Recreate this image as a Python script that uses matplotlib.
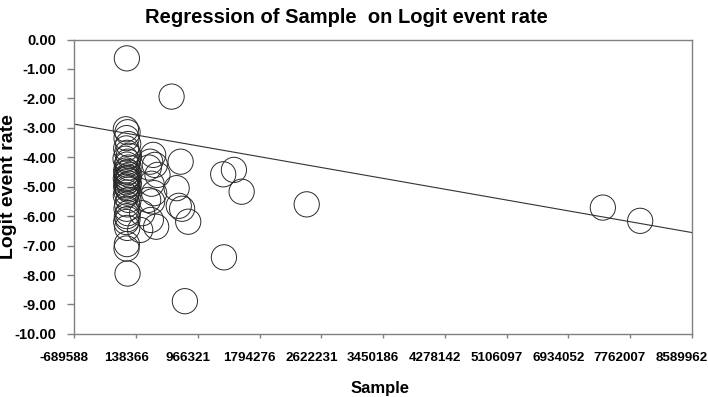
import matplotlib.pyplot as plt
import matplotlib.transforms as mtransforms
import numpy as np

plt.rcParams['font.family'] = ['Liberation Sans', 'DejaVu Sans']

# studies: sample size vs logit event rate
sample = [
    # main column near the left
    100000, 85000, 110000, 95000, 120000, 90000, 105000, 130000, 80000, 115000,
    100000, 125000, 90000, 110000, 95000, 135000, 100000, 120000, 85000, 105000,
    115000, 95000, 130000, 100000, 90000, 110000, 120000, 100000, 85000, 125000,
    105000, 95000, 115000, 100000, 110000, 90000, 105000, 100000, 95000, 110000,
    # second column a bit right
    495000, 450000, 520000, 430000, 560000, 470000, 510000, 420000, 480000, 330000,
    460000, 540000, 300000,
    # scattered
    772000, 908000, 848000, 880000, 1022000, 930000, 1548000, 1709000, 1825000,
    2803000, 1559000, 972000, 7254000, 7815000,
]
logit_rate = [
    -0.64, -3.05, -3.15, -3.35, -3.55, -3.7, -3.85, -3.95, -4.05, -4.15,
    -4.25, -4.35, -4.45, -4.5, -4.55, -4.6, -4.65, -4.7, -4.72, -4.75,
    -4.8, -4.85, -4.9, -4.95, -5.0, -5.05, -5.1, -5.2, -5.3, -5.45,
    -5.6, -5.75, -5.9, -6.0, -6.1, -6.2, -6.4, -6.95, -7.1, -7.95,
    -3.92, -4.15, -4.26, -4.35, -4.6, -4.9, -5.22, -5.45, -5.5, -5.9,
    -6.13, -6.36, -6.47,
    -1.94, -4.15, -5.05, -5.65, -6.19, -5.75, -4.58, -4.43, -5.17,
    -5.60, -7.40, -8.89, -5.71, -6.16,
]

# fitted regression line
intercept = -3.15
slope = -3.966e-7

x_min, x_max = -689588, 8589962
x_ticklabels = ['-689588', '138366', '966321', '1794276', '2622231', '3450186',
                '4278142', '5106097', '6934052', '7762007', '8589962']
y_ticks = [0, -1, -2, -3, -4, -5, -6, -7, -8, -9, -10]

fig = plt.figure(figsize=(7.08, 3.97), dpi=100)
ax = fig.add_axes([0.105, 0.159, 0.872, 0.7415])

ax.scatter(sample, logit_rate, s=330, facecolors='none', edgecolors='#2a2a2a',
           linewidths=0.7, zorder=3)

xl = np.array([x_min, x_max])
ax.plot(xl, intercept + slope * xl, color='#333333', lw=0.8, zorder=2)

ax.set_xlim(x_min, x_max)
ax.set_ylim(-10, 0)
x_ticks = np.linspace(x_min, x_max, 11)
ax.set_xticks(x_ticks)
ax.set_xticklabels([])
ax.set_yticks(y_ticks)
ax.set_yticklabels(['%.2f' % v for v in y_ticks], fontsize=10.5, fontweight='bold')

# x labels sit a little left of their ticks in the original
trans = mtransforms.blended_transform_factory(ax.transData, ax.transAxes) + \
    mtransforms.ScaledTranslation(-10 / 100, -24 / 100, fig.dpi_scale_trans)
for xt, lab in zip(x_ticks, x_ticklabels):
    ax.text(xt, 0, lab, transform=trans, ha='center', va='center',
            fontsize=9.6, fontweight='bold')

for sp in ax.spines.values():
    sp.set_color('#808080')
    sp.set_linewidth(1.0)
ax.tick_params(axis='y', color='#808080', length=5, width=1, pad=8)
ax.tick_params(axis='x', color='#808080', length=3, width=1)

ax.set_xlabel('Sample', fontsize=12, fontweight='bold')
ax.xaxis.set_label_coords(0.495, -0.16)
ax.set_ylabel('Logit event rate', fontsize=14, fontweight='bold')
ax.yaxis.set_label_coords(-0.093, 0.5)
fig.text(0.49, 0.955, 'Regression of Sample  on Logit event rate', ha='center',
         va='center', fontsize=14.5, fontweight='bold')

fig.savefig('out.png', dpi=100)
